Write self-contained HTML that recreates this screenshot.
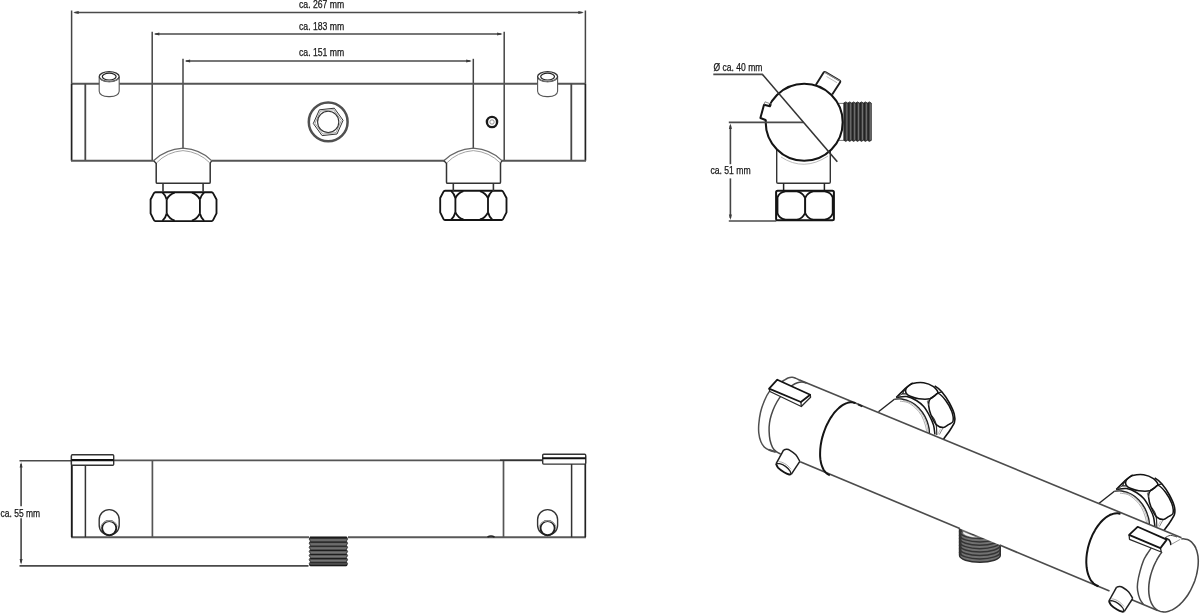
<!DOCTYPE html>
<html><head><meta charset="utf-8"><title>Technical drawing</title>
<style>
html,body{margin:0;padding:0;background:#fff;}
body{width:1200px;height:614px;overflow:hidden;}
svg{display:block;}
svg text{font-family:"Liberation Sans",sans-serif;fill:#161616;stroke:#161616;stroke-width:0.25px;}
</style></head><body>
<svg width="1200" height="614" viewBox="0 0 1200 614">
<defs><filter id="soft" x="0" y="0" width="1200" height="614" filterUnits="userSpaceOnUse" color-interpolation-filters="sRGB"><feColorMatrix type="saturate" values="0"/></filter></defs>
<rect width="1200" height="614" fill="#fff"/>
<g filter="url(#soft)">
<rect width="1200" height="614" fill="#fff"/>
<line x1="71.6" y1="10.5" x2="71.6" y2="83.8" stroke="#444" stroke-width="1.5"/>
<line x1="585.4" y1="10.5" x2="585.4" y2="83.8" stroke="#444" stroke-width="1.5"/>
<line x1="152.2" y1="31.8" x2="152.2" y2="160.7" stroke="#444" stroke-width="1.5"/>
<line x1="504.2" y1="31.8" x2="504.2" y2="160.7" stroke="#444" stroke-width="1.5"/>
<line x1="183.0" y1="58.8" x2="183.0" y2="149.0" stroke="#444" stroke-width="1.5"/>
<line x1="473.3" y1="58.8" x2="473.3" y2="149.0" stroke="#444" stroke-width="1.5"/>
<line x1="74.6" y1="12.5" x2="582.4" y2="12.5" stroke="#4a4a4a" stroke-width="1.7"/>
<path d="M73.2,12.5 L78.7,11.0 L78.7,14.0 Z" fill="#3a3a3a"/>
<path d="M583.8,12.5 L578.3,14.0 L578.3,11.0 Z" fill="#3a3a3a"/>
<line x1="155.2" y1="34.0" x2="501.2" y2="34.0" stroke="#4a4a4a" stroke-width="1.7"/>
<path d="M153.8,34.0 L159.3,32.5 L159.3,35.5 Z" fill="#3a3a3a"/>
<path d="M502.6,34.0 L497.1,35.5 L497.1,32.5 Z" fill="#3a3a3a"/>
<line x1="186.0" y1="61.0" x2="470.3" y2="61.0" stroke="#4a4a4a" stroke-width="1.7"/>
<path d="M184.6,61.0 L190.1,59.5 L190.1,62.5 Z" fill="#3a3a3a"/>
<path d="M471.7,61.0 L466.2,62.5 L466.2,59.5 Z" fill="#3a3a3a"/>
<line x1="71.6" y1="83.8" x2="585.4" y2="83.8" stroke="#555" stroke-width="1.9"/>
<line x1="71.6" y1="83.8" x2="71.6" y2="160.7" stroke="#222" stroke-width="1.7"/>
<line x1="585.4" y1="83.8" x2="585.4" y2="160.7" stroke="#222" stroke-width="1.7"/>
<line x1="85.3" y1="83.8" x2="85.3" y2="160.7" stroke="#484848" stroke-width="1.8"/>
<line x1="571.3" y1="83.8" x2="571.3" y2="160.7" stroke="#484848" stroke-width="1.8"/>
<line x1="71.0" y1="160.7" x2="153.5" y2="160.7" stroke="#555" stroke-width="1.9"/>
<line x1="211.5" y1="160.7" x2="444.9" y2="160.7" stroke="#555" stroke-width="1.9"/>
<line x1="501.5" y1="160.7" x2="586.0" y2="160.7" stroke="#555" stroke-width="1.9"/>
<path d="M99.2,77 V91.3 Q99.7,96.8 109.2,96.6 Q118.7,96.8 119.2,91.3 V77" fill="white" stroke="#555" stroke-width="1.1" />
<ellipse cx="109.2" cy="76.6" rx="10" ry="5" fill="white" stroke="#333" stroke-width="1.3"/>
<ellipse cx="109.2" cy="76.6" rx="6.9" ry="3.4" fill="white" stroke="#222" stroke-width="1.2"/>
<path d="M99.4,79 Q109.2,84.5 119.0,79" fill="none" stroke="#888" stroke-width="0.8" />
<path d="M537.6,77 V91.3 Q538.1,96.8 547.6,96.6 Q557.1,96.8 557.6,91.3 V77" fill="white" stroke="#555" stroke-width="1.1" />
<ellipse cx="547.6" cy="76.6" rx="10" ry="5" fill="white" stroke="#333" stroke-width="1.3"/>
<ellipse cx="547.6" cy="76.6" rx="6.9" ry="3.4" fill="white" stroke="#222" stroke-width="1.2"/>
<path d="M537.8,79 Q547.6,84.5 557.4,79" fill="none" stroke="#888" stroke-width="0.8" />
<circle cx="328.2" cy="121.9" r="19.4" fill="none" stroke="#505050" stroke-width="2.5"/>
<path d="M343.1,120.3 L337.0,134.0 L322.1,135.6 L313.3,123.5 L319.4,109.8 L334.3,108.2Z" fill="none" stroke="#333" stroke-width="1.0" />
<path d="M341.4,120.5 L336.0,132.7 L322.8,134.1 L315.0,123.3 L320.4,111.1 L333.6,109.7Z" fill="none" stroke="#777" stroke-width="0.7" />
<circle cx="328.2" cy="121.9" r="10.6" fill="none" stroke="#333" stroke-width="1.1"/>
<circle cx="492" cy="122" r="5.1" fill="white" stroke="#1a1a1a" stroke-width="2.4"/>
<circle cx="492" cy="122" r="2.2" fill="none" stroke="#777" stroke-width="0.8"/>
<path d="M155.4,192.2 H211.6 Q212.6,192.2 213.2,193.4 L216.5,199.5 V213.4 L213.2,219.9 Q212.6,221.1 211.6,221.1 H155.4 Q154.4,221.1 153.8,219.9 L150.6,213.4 V199.5 L153.8,193.4 Q154.4,192.2 155.4,192.2 Z" fill="white" stroke="#141414" stroke-width="1.85" stroke-linejoin="round"/>
<line x1="166.7" y1="199.5" x2="166.7" y2="213.4" stroke="#141414" stroke-width="1.85"/>
<path d="M166.7,199.5 Q165.5,195.2 162.4,192.4" fill="none" stroke="#141414" stroke-width="1.85" />
<path d="M166.7,213.4 Q165.5,218.1 162.4,220.9" fill="none" stroke="#141414" stroke-width="1.85" />
<path d="M166.7,199.5 Q169.3,194.4 174.7,192.7" fill="none" stroke="#141414" stroke-width="1.85" />
<path d="M166.7,213.4 Q169.3,218.9 174.7,220.6" fill="none" stroke="#141414" stroke-width="1.85" />
<line x1="199.9" y1="199.5" x2="199.9" y2="213.4" stroke="#141414" stroke-width="1.85"/>
<path d="M199.9,199.5 Q201.1,195.2 204.2,192.4" fill="none" stroke="#141414" stroke-width="1.85" />
<path d="M199.9,213.4 Q201.1,218.1 204.2,220.9" fill="none" stroke="#141414" stroke-width="1.85" />
<path d="M199.9,199.5 Q197.3,194.4 191.9,192.7" fill="none" stroke="#141414" stroke-width="1.85" />
<path d="M199.9,213.4 Q197.3,218.9 191.9,220.6" fill="none" stroke="#141414" stroke-width="1.85" />
<path d="M445.0,190.7 H501.6 Q502.6,190.7 503.2,191.9 L506.5,198.0 V212.3 L503.2,218.8 Q502.6,220.0 501.6,220.0 H445.0 Q444.0,220.0 443.4,218.8 L440.2,212.3 V198.0 L443.4,191.9 Q444.0,190.7 445.0,190.7 Z" fill="white" stroke="#141414" stroke-width="1.85" stroke-linejoin="round"/>
<line x1="455.4" y1="198.0" x2="455.4" y2="212.3" stroke="#141414" stroke-width="1.85"/>
<path d="M455.4,198.0 Q454.2,193.7 451.1,190.9" fill="none" stroke="#141414" stroke-width="1.85" />
<path d="M455.4,212.3 Q454.2,217.0 451.1,219.8" fill="none" stroke="#141414" stroke-width="1.85" />
<path d="M455.4,198.0 Q458.0,192.9 463.4,191.2" fill="none" stroke="#141414" stroke-width="1.85" />
<path d="M455.4,212.3 Q458.0,217.8 463.4,219.5" fill="none" stroke="#141414" stroke-width="1.85" />
<line x1="488.0" y1="198.0" x2="488.0" y2="212.3" stroke="#141414" stroke-width="1.85"/>
<path d="M488.0,198.0 Q489.2,193.7 492.3,190.9" fill="none" stroke="#141414" stroke-width="1.85" />
<path d="M488.0,212.3 Q489.2,217.0 492.3,219.8" fill="none" stroke="#141414" stroke-width="1.85" />
<path d="M488.0,198.0 Q485.4,192.9 480.0,191.2" fill="none" stroke="#141414" stroke-width="1.85" />
<path d="M488.0,212.3 Q485.4,217.8 480.0,219.5" fill="none" stroke="#141414" stroke-width="1.85" />
<path d="M153.5,160.7 Q165.0,149.5 183.0,148.2 Q201.0,149.5 211.6,160.7" fill="white" stroke="#666" stroke-width="1.2" />
<path d="M153.5,160.7 L156.2,163.2 M211.6,160.7 L210.2,163.2" fill="none" stroke="#333" stroke-width="1.3" />
<path d="M156.2,163.2 Q167.0,151.8 183.0,150.6 Q199.0,151.8 210.2,163.2" fill="none" stroke="#999" stroke-width="0.9" />
<path d="M156.2,163 V182.2 Q156.2,183.3 157.4,183.3 H209.0 Q210.2,183.3 210.2,182.2 V163" fill="none" stroke="#333" stroke-width="1.5" />
<line x1="163.0" y1="183.5" x2="163.0" y2="191.5" stroke="#333" stroke-width="1.6"/>
<line x1="203.1" y1="183.5" x2="203.1" y2="191.5" stroke="#333" stroke-width="1.6"/>
<path d="M443.8,160.7 Q455.3,149.5 473.3,148.2 Q491.3,149.5 501.9,160.7" fill="white" stroke="#666" stroke-width="1.2" />
<path d="M443.8,160.7 L446.5,163.2 M501.9,160.7 L500.5,163.2" fill="none" stroke="#333" stroke-width="1.3" />
<path d="M446.5,163.2 Q457.3,151.8 473.3,150.6 Q489.3,151.8 500.5,163.2" fill="none" stroke="#999" stroke-width="0.9" />
<path d="M446.5,163 V182.2 Q446.5,183.3 447.7,183.3 H499.3 Q500.5,183.3 500.5,182.2 V163" fill="none" stroke="#333" stroke-width="1.5" />
<line x1="453.3" y1="183.5" x2="453.3" y2="191.5" stroke="#333" stroke-width="1.6"/>
<line x1="493.4" y1="183.5" x2="493.4" y2="191.5" stroke="#333" stroke-width="1.6"/>
<text opacity="0.99" x="299.0" y="7.8" font-size="10" textLength="45.3" lengthAdjust="spacingAndGlyphs" text-anchor="start">ca. 267 mm</text>
<text opacity="0.99" x="299.0" y="29.6" font-size="10" textLength="45.3" lengthAdjust="spacingAndGlyphs" text-anchor="start">ca. 183 mm</text>
<text opacity="0.99" x="299.0" y="56.3" font-size="10" textLength="45.3" lengthAdjust="spacingAndGlyphs" text-anchor="start">ca. 151 mm</text>
<path d="M776.7,150 V182 Q776.7,183.3 778,183.3 H829 Q830.3,183.3 830.3,182 V150" fill="white" stroke="#333" stroke-width="1.4" />
<line x1="783.6" y1="183.5" x2="783.6" y2="190.6" stroke="#222" stroke-width="1.5"/>
<line x1="824.4" y1="183.5" x2="824.4" y2="190.6" stroke="#222" stroke-width="1.5"/>
<path d="M781,157 Q804,172 828,156" fill="none" stroke="#aaa" stroke-width="0.8" />
<line x1="838.0" y1="103.4" x2="845.0" y2="103.4" stroke="#666" stroke-width="0.9"/>
<line x1="838.0" y1="140.4" x2="845.0" y2="140.4" stroke="#666" stroke-width="0.9"/>
<path d="M843.8,102.9 L845.8,101.9 L847.7,103.1 L849.7,101.9 L851.7,103.1 L853.6,101.9 L855.6,103.1 L857.5,101.9 L859.5,103.1 L861.5,101.9 L863.4,103.1 L865.4,101.9 L867.4,103.1 L869.3,101.9 L871.3,103.1 L871.3,140.4 L869.3,141.4 L867.4,140.2 L865.4,141.4 L863.4,140.2 L861.5,141.4 L859.5,140.2 L857.5,141.4 L855.6,140.2 L853.6,141.4 L851.7,140.2 L849.7,141.4 L847.7,140.2 L845.8,141.4 L843.8,140.2Z" fill="#3e3e3e" stroke="#262626" stroke-width="0.8" />
<line x1="844.8" y1="102.9" x2="844.8" y2="140.4" stroke="#232323" stroke-width="1.2"/>
<line x1="846.8" y1="103.4" x2="846.8" y2="139.9" stroke="#7d7d7d" stroke-width="0.8"/>
<line x1="848.7" y1="102.9" x2="848.7" y2="140.4" stroke="#232323" stroke-width="1.2"/>
<line x1="850.7" y1="103.4" x2="850.7" y2="139.9" stroke="#7d7d7d" stroke-width="0.8"/>
<line x1="852.6" y1="102.9" x2="852.6" y2="140.4" stroke="#232323" stroke-width="1.2"/>
<line x1="854.6" y1="103.4" x2="854.6" y2="139.9" stroke="#7d7d7d" stroke-width="0.8"/>
<line x1="856.5" y1="102.9" x2="856.5" y2="140.4" stroke="#232323" stroke-width="1.2"/>
<line x1="858.5" y1="103.4" x2="858.5" y2="139.9" stroke="#7d7d7d" stroke-width="0.8"/>
<line x1="860.5" y1="102.9" x2="860.5" y2="140.4" stroke="#232323" stroke-width="1.2"/>
<line x1="862.5" y1="103.4" x2="862.5" y2="139.9" stroke="#7d7d7d" stroke-width="0.8"/>
<line x1="864.4" y1="102.9" x2="864.4" y2="140.4" stroke="#232323" stroke-width="1.2"/>
<line x1="866.4" y1="103.4" x2="866.4" y2="139.9" stroke="#7d7d7d" stroke-width="0.8"/>
<line x1="868.3" y1="102.9" x2="868.3" y2="140.4" stroke="#232323" stroke-width="1.2"/>
<line x1="870.3" y1="103.4" x2="870.3" y2="139.9" stroke="#7d7d7d" stroke-width="0.8"/>
<path d="M815.8,84.9 L823.6,72.6 Q824.4,71.4 825.8,72.2 L839.3,80.2 Q840.9,81.2 840,82.6 L832.2,94.6" fill="white" stroke="#1c1c1c" stroke-width="1.9" />
<path d="M824.6,72.2 L839.8,81" fill="none" stroke="#888" stroke-width="1.3" />
<path d="M826.5,76.5 L837,82.7" fill="none" stroke="#bbb" stroke-width="1.0" />
<circle cx="804.2" cy="122.2" r="38.5" fill="white" stroke="#141414" stroke-width="2.1"/>
<path d="M772.5,102.5 L769.9,106.3 L764,104.7 L760.4,118 L766,120.1 L770,121 L775,108 Z" fill="white" stroke="none" stroke-width="0" />
<path d="M770.9,104.0 L769.9,106.3 L764,104.7 L760.4,118 L766.2,120.2" fill="none" stroke="#141414" stroke-width="2.0" stroke-linejoin="round"/>
<path d="M764,104.7 L765,101.8 L770.9,104.0" fill="none" stroke="#777" stroke-width="0.9" />
<line x1="728.8" y1="122.3" x2="803.5" y2="122.3" stroke="#4a4a4a" stroke-width="1.7"/>
<line x1="728.8" y1="221.0" x2="776.5" y2="221.0" stroke="#4a4a4a" stroke-width="1.7"/>
<line x1="730.4" y1="125.5" x2="730.4" y2="164.2" stroke="#444" stroke-width="1.6"/>
<line x1="730.4" y1="178.4" x2="730.4" y2="218.0" stroke="#444" stroke-width="1.6"/>
<path d="M730.4,123.4 L731.9,128.9 L728.9,128.9 Z" fill="#3a3a3a"/>
<path d="M730.4,219.9 L728.9,214.4 L731.9,214.4 Z" fill="#3a3a3a"/>
<line x1="713.3" y1="74.4" x2="762.9" y2="74.4" stroke="#4a4a4a" stroke-width="1.7"/>
<line x1="762.5" y1="74.4" x2="837.3" y2="161.8" stroke="#333" stroke-width="1.6"/>
<text opacity="0.99" x="713.6" y="71.3" font-size="10" textLength="48.8" lengthAdjust="spacingAndGlyphs" text-anchor="start">Ø ca. 40 mm</text>
<text opacity="0.99" x="710.4" y="173.6" font-size="10.2" textLength="40.3" lengthAdjust="spacingAndGlyphs" text-anchor="start">ca. 51 mm</text>
<path d="M777.6,190.8 H832.4 Q833.9,190.8 833.9,192.3 V218.8 Q833.9,220.3 832.4,220.3 H777.6 Q776.1,220.3 776.1,218.8 V192.3 Q776.1,190.8 777.6,190.8 Z" fill="white" stroke="#141414" stroke-width="2.0" />
<path d="M804.9,197.6 Q802.4,192.4 796.9,191.4 H785.5 Q779.0,192.4 777.5,197.6 V213.3 Q779.0,218.7 785.5,219.7 H796.9 Q802.4,218.7 804.9,213.3" fill="none" stroke="#141414" stroke-width="1.8" />
<path d="M805.3,197.6 Q807.8,192.4 813.3,191.4 H824.7 Q831.2,192.4 832.7,197.6 V213.3 Q831.2,218.7 824.7,219.7 H813.3 Q807.8,218.7 805.3,213.3" fill="none" stroke="#141414" stroke-width="1.8" />
<line x1="805.1" y1="197.1" x2="805.1" y2="213.8" stroke="#141414" stroke-width="2.0"/>
<line x1="19.5" y1="460.8" x2="71.8" y2="460.8" stroke="#4a4a4a" stroke-width="1.6"/>
<line x1="19.5" y1="565.8" x2="308.5" y2="565.8" stroke="#4a4a4a" stroke-width="1.8"/>
<line x1="21.1" y1="464.0" x2="21.1" y2="506.3" stroke="#444" stroke-width="1.6"/>
<line x1="21.1" y1="518.2" x2="21.1" y2="562.5" stroke="#444" stroke-width="1.6"/>
<path d="M21.1,462.0 L22.6,467.5 L19.6,467.5 Z" fill="#3a3a3a"/>
<path d="M21.1,564.6 L19.6,559.1 L22.6,559.1 Z" fill="#3a3a3a"/>
<text opacity="0.99" x="0.6" y="516.8" font-size="10" textLength="39.5" lengthAdjust="spacingAndGlyphs" text-anchor="start">ca. 55 mm</text>
<line x1="71.8" y1="460.4" x2="545.3" y2="460.4" stroke="#555" stroke-width="1.8"/>
<line x1="71.2" y1="537.2" x2="309.0" y2="537.2" stroke="#585858" stroke-width="1.9"/>
<line x1="348.0" y1="537.2" x2="585.9" y2="537.2" stroke="#585858" stroke-width="1.9"/>
<line x1="71.8" y1="456.0" x2="71.8" y2="537.2" stroke="#1a1a1a" stroke-width="1.9"/>
<line x1="585.3" y1="456.0" x2="585.3" y2="537.2" stroke="#222" stroke-width="1.7"/>
<line x1="85.4" y1="465.0" x2="85.4" y2="537.2" stroke="#333" stroke-width="1.5"/>
<line x1="571.6" y1="464.0" x2="571.6" y2="537.2" stroke="#333" stroke-width="1.5"/>
<line x1="152.4" y1="460.4" x2="152.4" y2="537.2" stroke="#555" stroke-width="1.7"/>
<line x1="503.5" y1="460.4" x2="503.5" y2="537.2" stroke="#555" stroke-width="1.7"/>
<rect x="71.4" y="454.8" width="42.3" height="10.5" rx="1" fill="white" stroke="#333" stroke-width="1.4"/>
<line x1="71.4" y1="460.1" x2="113.7" y2="460.1" stroke="#111" stroke-width="2.3"/>
<rect x="542.7" y="454.2" width="43" height="9.9" rx="1" fill="white" stroke="#333" stroke-width="1.4"/>
<line x1="542.7" y1="458.2" x2="585.7" y2="458.2" stroke="#111" stroke-width="2.1"/>
<line x1="542.7" y1="460.2" x2="500.0" y2="460.2" stroke="#333" stroke-width="1.4"/>
<path d="M487.5,537 Q491,535.2 494.5,537" fill="none" stroke="#222" stroke-width="1.5" />
<path d="M99.2,525.2 V519.6 A10,10 0 0 1 119.2,519.6 V525.2 A10,10 0 0 1 99.2,525.2Z" fill="white" stroke="#333" stroke-width="1.4" />
<circle cx="109.2" cy="528.1" r="7.1" fill="white" stroke="#1e1e1e" stroke-width="1.9"/>
<path d="M101.0,526.5 A8.6,8.6 0 0 1 117.4,526.5" fill="none" stroke="#888" stroke-width="0.9" />
<path d="M102.0,524.5 A8.2,7.0 0 0 1 116.4,524.5" fill="none" stroke="#aaa" stroke-width="0.8" />
<path d="M537.6,525.2 V519.6 A10,10 0 0 1 557.6,519.6 V525.2 A10,10 0 0 1 537.6,525.2Z" fill="white" stroke="#333" stroke-width="1.4" />
<circle cx="547.6" cy="528.1" r="7.1" fill="white" stroke="#1e1e1e" stroke-width="1.9"/>
<path d="M539.4,526.5 A8.6,8.6 0 0 1 555.8,526.5" fill="none" stroke="#888" stroke-width="0.9" />
<path d="M540.4,524.5 A8.2,7.0 0 0 1 554.8,524.5" fill="none" stroke="#aaa" stroke-width="0.8" />
<path d="M310.2,537.0 L346.6,537.0 L347.6,539.1 L346.4,541.1 L347.6,543.2 L346.4,545.3 L347.6,547.3 L346.4,549.4 L347.6,551.5 L346.4,553.5 L347.6,555.6 L346.4,557.6 L347.6,559.7 L346.4,561.8 L347.6,563.8 L346.4,565.9 L310.2,565.9 L309.2,563.8 L310.4,561.8 L309.2,559.7 L310.4,557.6 L309.2,555.6 L310.4,553.5 L309.2,551.5 L310.4,549.4 L309.2,547.3 L310.4,545.3 L309.2,543.2 L310.4,541.1 L309.2,539.1 L310.4,537.0Z" fill="#5c5c5c" stroke="#222" stroke-width="0.8" />
<line x1="310.2" y1="538.0" x2="346.6" y2="538.0" stroke="#1e1e1e" stroke-width="1.1"/>
<line x1="310.7" y1="540.0" x2="346.1" y2="540.0" stroke="#7a7a7a" stroke-width="0.9"/>
<line x1="310.2" y1="542.1" x2="346.6" y2="542.1" stroke="#1e1e1e" stroke-width="1.1"/>
<line x1="310.7" y1="544.1" x2="346.1" y2="544.1" stroke="#7a7a7a" stroke-width="0.9"/>
<line x1="310.2" y1="546.2" x2="346.6" y2="546.2" stroke="#1e1e1e" stroke-width="1.1"/>
<line x1="310.7" y1="548.2" x2="346.1" y2="548.2" stroke="#7a7a7a" stroke-width="0.9"/>
<line x1="310.2" y1="550.4" x2="346.6" y2="550.4" stroke="#1e1e1e" stroke-width="1.1"/>
<line x1="310.7" y1="552.4" x2="346.1" y2="552.4" stroke="#7a7a7a" stroke-width="0.9"/>
<line x1="310.2" y1="554.5" x2="346.6" y2="554.5" stroke="#1e1e1e" stroke-width="1.1"/>
<line x1="310.7" y1="556.5" x2="346.1" y2="556.5" stroke="#7a7a7a" stroke-width="0.9"/>
<line x1="310.2" y1="558.6" x2="346.6" y2="558.6" stroke="#1e1e1e" stroke-width="1.1"/>
<line x1="310.7" y1="560.6" x2="346.1" y2="560.6" stroke="#7a7a7a" stroke-width="0.9"/>
<line x1="310.2" y1="562.7" x2="346.6" y2="562.7" stroke="#1e1e1e" stroke-width="1.1"/>
<line x1="310.7" y1="564.7" x2="346.1" y2="564.7" stroke="#7a7a7a" stroke-width="0.9"/>
<line x1="309.7" y1="565.3" x2="347.1" y2="565.3" stroke="#1a1a1a" stroke-width="1.5"/>
<line x1="309.7" y1="537.6" x2="347.1" y2="537.6" stroke="#1a1a1a" stroke-width="1.5"/>
<path d="M878.5,411.8 L894.4,399.3 L901.7,399.0 L911.5,402.4 L918.8,407.9 L924.9,416.4 L928.6,426.2 L929.4,433.2 L905.0,423.0Z" fill="white" stroke="none" stroke-width="0" />
<path d="M878.5,411.8 L894.4,399.3" fill="none" stroke="#222" stroke-width="1.4" />
<path d="M894.4,399.3 C895.6,399.2 898.9,398.5 901.7,399.0 C904.6,399.5 908.6,400.9 911.5,402.4 C914.4,403.9 916.6,405.6 918.8,407.9 C921.0,410.2 923.3,413.3 924.9,416.4 C926.5,419.4 927.9,423.4 928.6,426.2 C929.4,429.0 929.3,432.0 929.4,433.2" fill="none" stroke="#222" stroke-width="1.4" />
<path d="M900.0,401.2 C901.3,401.4 905.3,401.5 907.9,402.6 C910.5,403.7 913.2,405.9 915.5,408.0 C917.8,410.1 919.9,412.7 921.5,415.5 C923.1,418.3 924.4,422.3 925.3,425.0 C926.1,427.7 926.4,430.4 926.6,431.5" fill="none" stroke="#999" stroke-width="0.8" />
<path d="M903.0,400.5 C904.2,400.8 907.6,401.1 910.0,402.3 C912.4,403.5 915.1,405.6 917.3,407.8 C919.5,410.1 921.7,412.9 923.3,415.8 C924.9,418.8 926.2,422.8 927.0,425.5 C927.8,428.2 927.8,431.1 928.0,432.2" fill="none" stroke="#aaa" stroke-width="0.8" />
<path d="M896.3,397.5 L905.4,388.3 L912.7,382.8 L923.7,382.0 L934.7,385.9 L942.0,392.0 L949.4,403.0 L954.2,414.0 L954.4,422.5 L949.4,431.0 L943.3,439.4 L934.9,434.5 L933.5,425.0 L929.8,416.4 L923.7,406.6 L916.4,400.5 L906.6,396.5 L896.3,397.5Z" fill="white" stroke="none" stroke-width="0" />
<path d="M896.3,397.5 C897.4,396.4 903.5,390.0 905.4,388.3 C907.3,386.6 911.8,383.4 912.7,382.8" fill="none" stroke="#141414" stroke-width="1.6" stroke-linejoin="round"/>
<path d="M934.7,385.9 C936.8,387.1 940.3,390.0 942.0,392.0 C943.7,394.0 948.0,400.4 949.4,403.0 C950.8,405.6 953.6,411.7 954.2,414.0 C954.8,416.3 955.0,420.5 954.4,422.5 C953.8,424.5 950.7,429.0 949.4,431.0 C948.1,433.0 944.0,438.4 943.3,439.4" fill="none" stroke="#141414" stroke-width="1.6" stroke-linejoin="round"/>
<path d="M896.3,397.5 C898.0,397.3 903.2,396.0 906.6,396.5 C910.0,397.0 913.5,398.8 916.4,400.5 C919.2,402.2 921.5,404.0 923.7,406.6 C925.9,409.2 928.2,413.3 929.8,416.4 C931.4,419.5 932.6,422.0 933.5,425.0 C934.4,428.0 934.7,432.9 934.9,434.5" fill="none" stroke="#141414" stroke-width="1.5" />
<path d="M931.1,415.2 C931.7,416.0 933.7,418.3 934.6,420.0 C935.5,421.7 935.9,423.0 936.3,425.5 C936.7,428.0 936.7,433.4 936.8,435.0" fill="none" stroke="#333" stroke-width="1.2" />
<path d="M943.3,427.4 L939.4,434.5" fill="none" stroke="#777" stroke-width="0.9" />
<path d="M940.5,429.0 L937.6,434.8" fill="none" stroke="#aaa" stroke-width="0.7" />
<path d="M905.6,390.5 C905.7,389.6 906.6,387.7 907.5,386.8 C908.4,385.9 910.5,383.9 912.7,383.4 C914.9,382.9 920.9,382.3 923.7,382.7 C926.5,383.1 931.6,385.3 933.5,386.6 C935.4,387.9 937.8,391.2 937.9,392.4 C938.0,393.6 935.6,394.9 934.5,395.8 C933.4,396.7 931.9,398.4 929.8,398.8 C927.7,399.2 921.4,399.1 918.8,398.8 C916.2,398.5 911.9,397.0 910.3,396.3 C908.7,395.6 907.2,394.6 906.6,393.8 C906.0,393.0 905.5,391.4 905.6,390.5Z" fill="none" stroke="#141414" stroke-width="1.5" />
<path d="M929.8,399.3 C930.5,398.1 932.9,397.0 934.0,396.2 C935.1,395.4 936.8,392.8 938.4,393.4 C940.0,394.0 943.9,398.1 945.7,400.5 C947.5,402.9 950.8,408.7 951.8,411.5 C952.8,414.3 953.4,419.6 953.0,421.3 C952.6,423.0 949.8,423.8 948.5,424.6 C947.2,425.4 944.9,427.4 943.3,427.4 C941.7,427.4 938.1,426.5 936.5,424.9 C934.9,423.3 932.2,417.8 931.1,415.2 C930.0,412.6 928.8,407.5 928.6,405.4 C928.4,403.3 929.1,400.5 929.8,399.3Z" fill="none" stroke="#141414" stroke-width="1.5" />
<path d="M905.4,388.5 L902.4,393.8 L906.6,393.8" fill="none" stroke="#222" stroke-width="1.2" />
<path d="M902.4,393.8 L897.0,397.3" fill="none" stroke="#444" stroke-width="1.0" />
<path d="M938.0,392.6 L941.8,392.2" fill="none" stroke="#222" stroke-width="1.2" />
<path d="M929.8,398.8 L927.3,401.2 L928.6,405.4" fill="none" stroke="#555" stroke-width="0.9" />
<path d="M1098.5,503.8 L1114.4,491.3 L1121.7,491.0 L1131.5,494.4 L1138.8,499.9 L1144.9,508.4 L1148.6,518.2 L1149.4,525.2 L1125.0,515.0Z" fill="white" stroke="none" stroke-width="0" />
<path d="M1098.5,503.8 L1114.4,491.3" fill="none" stroke="#222" stroke-width="1.4" />
<path d="M1114.4,491.3 C1115.6,491.2 1118.9,490.5 1121.7,491.0 C1124.5,491.5 1128.7,492.9 1131.5,494.4 C1134.3,495.9 1136.6,497.6 1138.8,499.9 C1141.0,502.2 1143.3,505.3 1144.9,508.4 C1146.5,511.4 1147.8,515.4 1148.6,518.2 C1149.3,521.0 1149.3,524.0 1149.4,525.2" fill="none" stroke="#222" stroke-width="1.4" />
<path d="M1120.0,493.2 C1121.3,493.4 1125.3,493.5 1127.9,494.6 C1130.5,495.7 1133.2,497.9 1135.5,500.0 C1137.8,502.1 1139.9,504.7 1141.5,507.5 C1143.1,510.3 1144.5,514.3 1145.3,517.0 C1146.1,519.7 1146.4,522.4 1146.6,523.5" fill="none" stroke="#999" stroke-width="0.8" />
<path d="M1123.0,492.5 C1124.2,492.8 1127.6,493.1 1130.0,494.3 C1132.4,495.5 1135.1,497.6 1137.3,499.8 C1139.5,502.1 1141.7,504.9 1143.3,507.8 C1144.9,510.8 1146.2,514.8 1147.0,517.5 C1147.8,520.2 1147.8,523.1 1148.0,524.2" fill="none" stroke="#aaa" stroke-width="0.8" />
<path d="M1116.3,489.5 L1125.4,480.3 L1132.7,474.8 L1143.7,474.0 L1154.7,477.9 L1162.0,484.0 L1169.4,495.0 L1174.2,506.0 L1174.4,514.5 L1169.4,523.0 L1163.3,531.4 L1154.9,526.5 L1153.5,517.0 L1149.8,508.4 L1143.7,498.6 L1136.4,492.5 L1126.6,488.5 L1116.3,489.5Z" fill="white" stroke="none" stroke-width="0" />
<path d="M1116.3,489.5 C1117.4,488.4 1123.5,482.0 1125.4,480.3 C1127.3,478.6 1131.8,475.4 1132.7,474.8" fill="none" stroke="#141414" stroke-width="1.6" stroke-linejoin="round"/>
<path d="M1154.7,477.9 C1156.8,479.1 1160.3,482.0 1162.0,484.0 C1163.7,486.0 1168.0,492.4 1169.4,495.0 C1170.8,497.6 1173.6,503.7 1174.2,506.0 C1174.8,508.3 1175.0,512.5 1174.4,514.5 C1173.8,516.5 1170.7,521.0 1169.4,523.0 C1168.1,525.0 1164.0,530.4 1163.3,531.4" fill="none" stroke="#141414" stroke-width="1.6" stroke-linejoin="round"/>
<path d="M1116.3,489.5 C1118.0,489.3 1123.2,488.0 1126.6,488.5 C1129.9,489.0 1133.6,490.8 1136.4,492.5 C1139.2,494.2 1141.5,496.0 1143.7,498.6 C1145.9,501.2 1148.2,505.3 1149.8,508.4 C1151.4,511.5 1152.7,514.0 1153.5,517.0 C1154.3,520.0 1154.7,524.9 1154.9,526.5" fill="none" stroke="#141414" stroke-width="1.5" />
<path d="M1151.1,507.2 C1151.7,508.0 1153.7,510.3 1154.6,512.0 C1155.5,513.7 1155.9,515.0 1156.3,517.5 C1156.7,520.0 1156.7,525.4 1156.8,527.0" fill="none" stroke="#333" stroke-width="1.2" />
<path d="M1163.3,519.4 L1159.4,526.5" fill="none" stroke="#777" stroke-width="0.9" />
<path d="M1160.5,521.0 L1157.6,526.8" fill="none" stroke="#aaa" stroke-width="0.7" />
<path d="M1125.6,482.5 C1125.7,481.6 1126.6,479.7 1127.5,478.8 C1128.4,477.9 1130.5,475.9 1132.7,475.4 C1134.9,474.9 1140.9,474.3 1143.7,474.7 C1146.5,475.1 1151.6,477.3 1153.5,478.6 C1155.4,479.9 1157.8,483.2 1157.9,484.4 C1158.0,485.6 1155.6,486.9 1154.5,487.8 C1153.4,488.7 1151.9,490.4 1149.8,490.8 C1147.7,491.2 1141.4,491.1 1138.8,490.8 C1136.2,490.5 1131.9,489.0 1130.3,488.3 C1128.7,487.6 1127.2,486.6 1126.6,485.8 C1126.0,485.0 1125.5,483.4 1125.6,482.5Z" fill="none" stroke="#141414" stroke-width="1.5" />
<path d="M1149.8,491.3 C1150.5,490.1 1152.9,489.0 1154.0,488.2 C1155.1,487.4 1156.8,484.8 1158.4,485.4 C1160.0,486.0 1163.9,490.1 1165.7,492.5 C1167.5,494.9 1170.8,500.7 1171.8,503.5 C1172.8,506.3 1173.4,511.6 1173.0,513.3 C1172.6,515.0 1169.8,515.8 1168.5,516.6 C1167.2,517.4 1164.9,519.4 1163.3,519.4 C1161.7,519.4 1158.1,518.5 1156.5,516.9 C1154.9,515.3 1152.2,509.8 1151.1,507.2 C1150.0,504.6 1148.8,499.5 1148.6,497.4 C1148.4,495.3 1149.1,492.5 1149.8,491.3Z" fill="none" stroke="#141414" stroke-width="1.5" />
<path d="M1125.4,480.5 L1122.4,485.8 L1126.6,485.8" fill="none" stroke="#222" stroke-width="1.2" />
<path d="M1122.4,485.8 L1117.0,489.3" fill="none" stroke="#444" stroke-width="1.0" />
<path d="M1158.0,484.6 L1161.8,484.2" fill="none" stroke="#222" stroke-width="1.2" />
<path d="M1149.8,490.8 L1147.3,493.2 L1148.6,497.4" fill="none" stroke="#555" stroke-width="0.9" />
<path d="M959.5,526.0 V555.3 A20.4,7.0 0 0 0 1000.3,555.3 V543.0 Z" fill="#727272" stroke="#2e2e2e" stroke-width="1.4" />
<path d="M959.5,551.9 A20.4,7.0 0 0 0 1000.3,551.9" fill="none" stroke="#343434" stroke-width="1.5" />
<path d="M959.5,548.5 A20.4,7.0 0 0 0 1000.3,548.5" fill="none" stroke="#343434" stroke-width="1.5" />
<path d="M959.5,545.1 A20.4,7.0 0 0 0 1000.3,545.1" fill="none" stroke="#343434" stroke-width="1.5" />
<path d="M959.5,541.7 A20.4,7.0 0 0 0 1000.3,541.7" fill="none" stroke="#343434" stroke-width="1.5" />
<path d="M959.5,538.3 A20.4,7.0 0 0 0 1000.3,538.3" fill="none" stroke="#343434" stroke-width="1.5" />
<path d="M959.5,534.9 A20.4,7.0 0 0 0 1000.3,534.9" fill="none" stroke="#343434" stroke-width="1.5" />
<path d="M959.5,531.5 A20.4,7.0 0 0 0 1000.3,531.5" fill="none" stroke="#343434" stroke-width="1.5" />
<path d="M959.5,528.1 A20.4,7.0 0 0 0 1000.3,528.1" fill="none" stroke="#343434" stroke-width="1.5" />
<line x1="960.7" y1="529.0" x2="960.7" y2="555.3" stroke="#333" stroke-width="1.6"/>
<path d="M962.6,531.0 L978.5,537.8 Q969,538.2 963,534 Z" fill="#f4f4f4" stroke="#555" stroke-width="0.6" />
<path d="M800.0,380.3 L1181.0,537.7 L1188.9,541.4 L1194.6,547.2 L1197.8,553.5 L1198.9,560.0 L1197.6,568.8 L1193.7,582.9 L1187.5,595.2 L1179.6,604.9 L1171.7,610.1 L1164.6,611.9 L1157.6,610.1 L1157.6,610.6 L1143.3,604.6 L775.5,452.0 L775.5,452.0 L769.5,450.3 L764.5,447.3 L760.8,441.5 L758.8,433.0 L758.8,424.0 L760.6,412.0 L764.3,401.0 L769.1,391.9 L776.0,385.5 L783.8,380.5 L788.0,378.0 L792.3,377.2 L796.0,378.4 L800.0,380.3Z" fill="white" stroke="none" stroke-width="0" />
<path d="M799.5,379.9 L1181.5,537.7" fill="none" stroke="#4c4c4c" stroke-width="1.65" />
<path d="M768.5,449.5 L776.5,452.1" fill="none" stroke="#4c4c4c" stroke-width="1.6" />
<path d="M800.2,461.8 L959.8,528.5" fill="none" stroke="#4c4c4c" stroke-width="1.65" />
<path d="M999.7,545.1 L1109.5,591.0" fill="none" stroke="#4c4c4c" stroke-width="1.65" />
<path d="M1131.8,599.8 L1143.3,604.6 L1157.6,610.4" fill="none" stroke="#4c4c4c" stroke-width="1.65" />
<path d="M800.0,380.3 C799.3,380.0 797.3,378.9 796.0,378.4 C794.7,377.9 793.6,377.3 792.3,377.2 C791.0,377.1 789.4,377.4 788.0,378.0 C786.6,378.6 785.8,379.2 783.8,380.5 C781.8,381.8 778.5,383.6 776.0,385.5 C773.5,387.4 771.1,389.3 769.1,391.9 C767.1,394.5 765.7,397.6 764.3,401.0 C762.9,404.4 761.5,408.2 760.6,412.0 C759.7,415.8 759.1,420.5 758.8,424.0 C758.5,427.5 758.5,430.1 758.8,433.0 C759.1,435.9 759.8,439.1 760.8,441.5 C761.8,443.9 763.0,445.8 764.5,447.3 C766.0,448.8 767.7,449.5 769.5,450.3 C771.3,451.1 774.5,451.7 775.5,452.0" fill="none" stroke="#505050" stroke-width="1.5" />
<path d="M806.5,382.9 C805.8,382.8 803.5,382.1 802.0,382.1 C800.5,382.1 799.1,382.2 797.5,382.7 C795.9,383.2 794.2,384.0 792.3,385.3 C790.4,386.6 788.1,388.4 786.0,390.5 C783.9,392.6 781.6,395.0 779.7,397.6 C777.8,400.2 776.2,403.1 774.8,406.0 C773.4,408.9 772.2,412.2 771.3,415.0 C770.4,417.8 769.9,420.3 769.5,423.0 C769.1,425.7 769.0,428.2 769.1,431.0 C769.2,433.8 769.4,437.3 770.0,440.0 C770.6,442.7 771.5,445.4 772.5,447.3 C773.5,449.2 774.6,450.2 776.0,451.3 C777.4,452.4 779.8,453.6 780.6,454.0" fill="none" stroke="#484848" stroke-width="1.5" />
<path d="M829.8,475.3 C829.4,475.1 828.2,474.6 827.4,474.0 C826.7,473.5 826.0,472.9 825.4,472.2 C824.8,471.4 824.2,470.6 823.6,469.7 C823.1,468.8 822.6,467.8 822.2,466.7 C821.8,465.6 821.4,464.5 821.1,463.3 C820.8,462.0 820.6,460.7 820.4,459.4 C820.3,458.0 820.1,456.6 820.1,455.2 C820.1,453.7 820.1,452.2 820.2,450.7 C820.2,449.2 820.4,447.6 820.6,446.0 C820.8,444.4 821.1,442.8 821.4,441.2 C821.7,439.6 822.1,438.0 822.6,436.4 C823.0,434.8 823.5,433.2 824.1,431.6 C824.7,430.0 825.3,428.5 825.9,426.9 C826.6,425.4 827.3,423.9 828.1,422.5 C828.8,421.1 829.6,419.7 830.4,418.3 C831.3,417.0 832.1,415.7 833.0,414.5 C833.9,413.3 834.8,412.2 835.7,411.2 C836.7,410.1 837.6,409.1 838.6,408.3 C839.6,407.4 840.6,406.6 841.5,405.9 C842.5,405.2 843.5,404.6 844.5,404.1 C845.5,403.6 846.4,403.2 847.4,402.9 C848.3,402.6 849.3,402.4 850.2,402.3 C851.1,402.2 852.1,402.2 852.9,402.4 C853.8,402.5 855.0,402.9 855.5,403.1" fill="none" stroke="#141414" stroke-width="2.0" />
<path d="M858.0,404.4 L862.3,406.4" fill="none" stroke="#222" stroke-width="1.8" />
<path d="M1098.5,586.3 C1098.1,586.1 1096.7,585.7 1095.9,585.2 C1095.1,584.7 1094.3,584.1 1093.6,583.5 C1092.9,582.8 1092.2,582.0 1091.5,581.2 C1090.9,580.3 1090.3,579.4 1089.8,578.3 C1089.2,577.3 1088.8,576.2 1088.4,575.0 C1087.9,573.9 1087.6,572.6 1087.3,571.3 C1087.0,570.0 1086.8,568.6 1086.6,567.2 C1086.5,565.8 1086.4,564.3 1086.3,562.8 C1086.3,561.3 1086.3,559.8 1086.4,558.2 C1086.5,556.6 1086.7,555.0 1086.9,553.4 C1087.2,551.9 1087.5,550.2 1087.8,548.6 C1088.2,547.0 1088.6,545.4 1089.1,543.8 C1089.6,542.3 1090.1,540.7 1090.7,539.2 C1091.3,537.6 1092.0,536.1 1092.6,534.7 C1093.3,533.2 1094.1,531.8 1094.9,530.4 C1095.6,529.1 1096.5,527.8 1097.3,526.6 C1098.2,525.3 1099.1,524.2 1100.0,523.1 C1100.9,522.0 1101.9,521.0 1102.9,520.0 C1103.8,519.1 1104.8,518.3 1105.8,517.5 C1106.8,516.8 1107.8,516.1 1108.8,515.6 C1109.8,515.0 1110.9,514.5 1111.9,514.2 C1112.9,513.8 1113.9,513.6 1114.8,513.4 C1115.8,513.3 1116.8,513.2 1117.7,513.3 C1118.7,513.4 1120.0,513.7 1120.5,513.8" fill="none" stroke="#141414" stroke-width="2.0" />
<path d="M1153.0,545.5 C1152.6,546.1 1151.7,547.3 1150.6,548.9 C1149.5,550.5 1147.7,553.1 1146.5,555.0 C1145.3,556.9 1144.6,557.8 1143.5,560.5 C1142.4,563.2 1141.0,567.6 1140.0,571.4 C1139.0,575.1 1138.0,579.8 1137.6,583.0 C1137.2,586.2 1137.2,587.9 1137.6,590.5 C1138.0,593.1 1138.8,596.4 1139.8,598.7 C1140.8,601.1 1142.9,603.6 1143.5,604.6" fill="none" stroke="#484848" stroke-width="1.5" />
<path d="M1162.0,552.0 C1161.5,552.7 1160.0,554.6 1159.1,556.0 C1158.2,557.5 1157.3,558.9 1156.5,560.5 C1155.7,562.0 1154.9,563.6 1154.2,565.2 C1153.5,566.7 1152.9,568.4 1152.3,570.0 C1151.7,571.7 1151.2,573.4 1150.7,575.0 C1150.3,576.7 1149.9,578.4 1149.6,580.0 C1149.3,581.7 1149.1,583.3 1148.9,584.9 C1148.8,586.5 1148.7,588.1 1148.7,589.7 C1148.8,591.2 1148.8,592.7 1149.0,594.1 C1149.2,595.5 1149.4,596.9 1149.7,598.2 C1150.0,599.5 1150.4,600.8 1150.9,601.9 C1151.3,603.1 1151.9,604.1 1152.5,605.1 C1153.1,606.1 1153.7,607.0 1154.4,607.7 C1155.2,608.5 1156.0,609.2 1156.8,609.8 C1157.6,610.3 1158.5,610.8 1159.4,611.1 C1160.4,611.5 1161.3,611.7 1162.4,611.8 C1163.4,612.0 1164.4,612.0 1165.5,611.9 C1166.5,611.8 1167.6,611.5 1168.7,611.2 C1169.9,610.9 1171.0,610.4 1172.1,609.9 C1173.2,609.3 1174.4,608.7 1175.5,607.9 C1176.6,607.2 1177.8,606.3 1178.9,605.3 C1180.0,604.4 1181.0,603.3 1182.1,602.2 C1183.2,601.1 1184.2,599.8 1185.2,598.5 C1186.2,597.3 1187.2,595.9 1188.1,594.5 C1189.0,593.0 1189.9,591.5 1190.7,590.0 C1191.5,588.5 1192.2,586.9 1192.9,585.3 C1193.6,583.7 1194.3,582.1 1194.9,580.4 C1195.4,578.8 1195.9,577.1 1196.4,575.4 C1196.8,573.8 1197.2,572.1 1197.4,570.4 C1197.7,568.8 1197.9,567.1 1198.1,565.5 C1198.2,563.9 1198.3,562.3 1198.3,560.8 C1198.2,559.3 1198.1,557.8 1198.0,556.4 C1197.8,555.0 1197.5,553.6 1197.2,552.3 C1196.9,551.0 1196.5,549.8 1196.0,548.6 C1195.6,547.5 1195.0,546.5 1194.4,545.5 C1193.8,544.5 1193.1,543.7 1192.4,542.9 C1191.7,542.1 1190.9,541.5 1190.0,540.9 C1189.2,540.4 1188.3,539.9 1187.4,539.6 C1186.4,539.3 1185.4,539.0 1184.4,538.9 C1183.4,538.8 1181.8,538.9 1181.3,539.0" fill="none" stroke="#484848" stroke-width="1.55" />
<path d="M777.3,379.7 L810.2,394.7 L810.6,397.2 L801.3,406.5 L769.9,391.5 L769.1,388.6Z" fill="white" stroke="none" stroke-width="0" />
<path d="M769.1,388.6 L769.9,391.5 L801.3,406.5 L810.6,397.2 L810.2,394.7" fill="none" stroke="#2a2a2a" stroke-width="1.3" stroke-linejoin="round"/>
<path d="M800.9,402.0 L801.3,406.5" fill="none" stroke="#2a2a2a" stroke-width="1.3" />
<path d="M777.3,379.7 L810.2,394.7 L800.9,402.0 L769.1,388.6Z" fill="white" stroke="#141414" stroke-width="1.8" stroke-linejoin="round"/>
<path d="M1165.2,537.8 C1165.8,538.1 1168.0,538.9 1168.8,539.6 C1169.6,540.3 1169.9,541.1 1170.3,542.0 C1170.7,542.9 1170.8,544.6 1170.9,545.1" fill="none" stroke="#1a1a1a" stroke-width="1.6" />
<path d="M1170.9,544.6 L1180.2,539.4" fill="none" stroke="#999" stroke-width="1.0" />
<path d="M1165.2,537.6 C1166.1,537.2 1168.5,535.5 1170.5,535.4 C1172.5,535.3 1175.9,536.7 1177.0,537.0" fill="none" stroke="#444" stroke-width="1.0" />
<path d="M1137.6,526.8 L1166.8,539.6 L1160.4,548.1 L1161.3,552.0 L1129.5,539.3 L1129.1,534.9Z" fill="white" stroke="none" stroke-width="0" />
<path d="M1129.1,534.9 L1129.5,539.3 L1161.3,552.0 L1160.4,548.1" fill="none" stroke="#2a2a2a" stroke-width="1.3" stroke-linejoin="round"/>
<path d="M1137.6,526.8 L1166.8,539.6 L1160.4,548.1 L1129.1,534.9Z" fill="white" stroke="#141414" stroke-width="1.8" stroke-linejoin="round"/>
<path d="M783.7,449.9 L786.5,449.3 L789.9,450.3 L795.8,454.7 L799.8,461.3 L791.4,474.1 L789.2,474.5 L784.1,472.3 L778.2,467.9 L776.0,463.8Z" fill="white" stroke="none" stroke-width="0" />
<path d="M783.7,449.9 C784.2,449.8 785.5,449.2 786.5,449.3 C787.5,449.4 788.4,449.4 789.9,450.3 C791.4,451.2 794.1,452.9 795.8,454.7 C797.4,456.5 799.1,460.2 799.8,461.3" fill="none" stroke="#1e1e1e" stroke-width="1.5" />
<path d="M783.7,449.9 L776.0,463.8" fill="none" stroke="#1e1e1e" stroke-width="1.5" />
<path d="M799.8,461.3 L791.4,474.1" fill="none" stroke="#1e1e1e" stroke-width="1.5" />
<path d="M776.0,463.8 C776.4,464.5 776.9,466.5 778.2,467.9 C779.6,469.3 782.3,471.2 784.1,472.3 C785.9,473.4 788.0,474.2 789.2,474.5 C790.4,474.8 791.0,474.2 791.4,474.1" fill="none" stroke="#141414" stroke-width="1.9" />
<path d="M776.0,463.8 C776.6,463.8 778.1,463.3 779.7,463.7 C781.3,464.1 783.8,465.2 785.5,466.4 C787.2,467.6 789.0,469.5 789.9,470.8 C790.8,472.1 790.8,473.5 791.0,474.0" fill="none" stroke="#222" stroke-width="1.3" />
<path d="M778.4,461.6 C779.0,461.7 780.6,461.8 782.0,462.3 C783.4,462.9 785.3,463.7 786.8,464.9 C788.3,466.1 790.5,468.6 791.2,469.3" fill="none" stroke="#999" stroke-width="0.8" />
<path d="M1116.6,587.1 L1119.4,586.5 L1122.8,587.5 L1128.7,591.9 L1132.7,598.5 L1124.3,611.3 L1122.1,611.7 L1117.0,609.5 L1111.1,605.1 L1108.9,601.0Z" fill="white" stroke="none" stroke-width="0" />
<path d="M1116.6,587.1 C1117.1,587.0 1118.4,586.4 1119.4,586.5 C1120.4,586.6 1121.2,586.6 1122.8,587.5 C1124.3,588.4 1127.0,590.1 1128.7,591.9 C1130.3,593.7 1132.0,597.4 1132.7,598.5" fill="none" stroke="#1e1e1e" stroke-width="1.5" />
<path d="M1116.6,587.1 L1108.9,601.0" fill="none" stroke="#1e1e1e" stroke-width="1.5" />
<path d="M1132.7,598.5 L1124.3,611.3" fill="none" stroke="#1e1e1e" stroke-width="1.5" />
<path d="M1108.9,601.0 C1109.3,601.7 1109.8,603.7 1111.1,605.1 C1112.4,606.5 1115.2,608.4 1117.0,609.5 C1118.8,610.6 1120.9,611.4 1122.1,611.7 C1123.3,612.0 1123.9,611.4 1124.3,611.3" fill="none" stroke="#141414" stroke-width="1.9" />
<path d="M1108.9,601.0 C1109.5,601.0 1111.0,600.5 1112.6,600.9 C1114.2,601.3 1116.7,602.4 1118.4,603.6 C1120.1,604.8 1121.9,606.7 1122.8,608.0 C1123.7,609.3 1123.7,610.7 1123.9,611.2" fill="none" stroke="#222" stroke-width="1.3" />
<path d="M1111.3,598.8 C1111.9,598.9 1113.5,599.0 1114.9,599.5 C1116.3,600.0 1118.2,600.9 1119.7,602.1 C1121.2,603.3 1123.4,605.8 1124.1,606.5" fill="none" stroke="#999" stroke-width="0.8" />
</g>
</svg>
</body></html>
